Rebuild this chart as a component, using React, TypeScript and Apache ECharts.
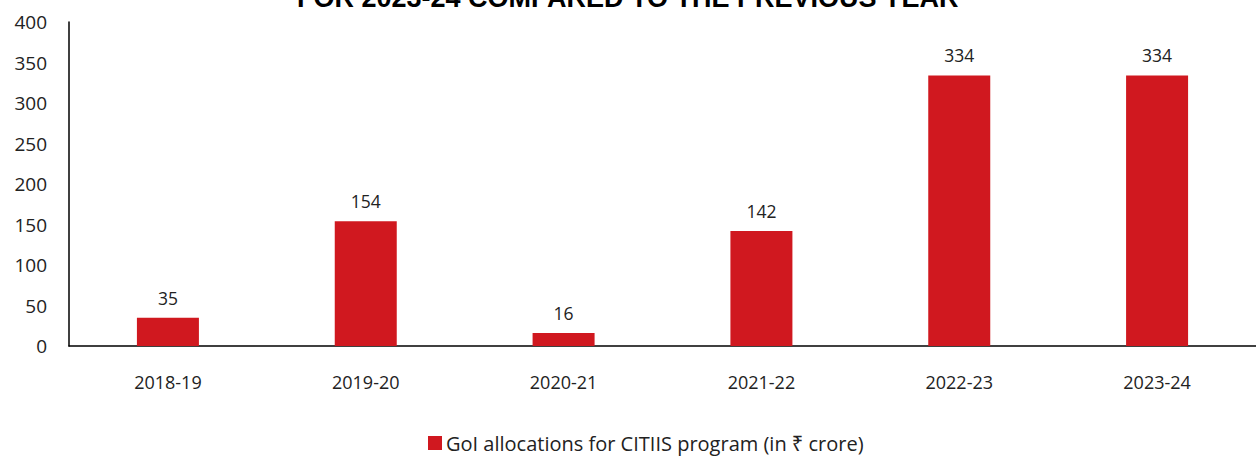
import React, { useEffect, useRef } from "react";
import * as echarts from "echarts";

const categories = ["2018-19", "2019-20", "2020-21", "2021-22", "2022-23", "2023-24"];
const allocations = [35, 154, 16, 142, 334, 334];
const seriesName = "GoI allocations for CITIIS program (in ₹ crore)";
const titleText = "FOR 2023-24 COMPARED TO THE PREVIOUS YEAR";

const FONT = "'Open Sans', 'Noto Sans', sans-serif";

export default function App() {
  const ref = useRef<HTMLDivElement>(null);
  useEffect(() => {
    document.body.style.margin = "0";
    const chart = echarts.init(ref.current!, null, { renderer: "svg" });
    chart.setOption({
      animation: false,
      textStyle: { fontFamily: FONT },
      graphic: [
        {
          type: "text",
          left: "center",
          top: -16,
          style: {
            text: titleText,
            font: "bold 27px 'Liberation Sans', Arial, sans-serif",
            fill: "#000",
          },
        },
      ],
      legend: {
        bottom: -2,
        left: 423,
        itemWidth: 14,
        itemHeight: 14,
        itemGap: 5,
        icon: "rect",
        textStyle: { fontSize: 20, color: "#222", fontFamily: FONT, padding: [0, 0, 0, -1] },
        data: [seriesName],
      },
      grid: { left: 69, top: 22, bottom: 110, width: 1198 },
      xAxis: {
        type: "category",
        data: categories,
        axisLine: { lineStyle: { color: "#000", width: 1.5 } },
        axisTick: { show: false },
        axisLabel: { fontSize: 18, color: "#222", margin: 27 },
      },
      yAxis: {
        type: "value",
        min: 0,
        max: 400,
        interval: 50,
        axisLine: { show: true, lineStyle: { color: "#000", width: 1.5 } },
        axisTick: { show: false },
        splitLine: { show: false },
        axisLabel: { fontSize: 19, color: "#222", margin: 22 },
      },
      series: [
        {
          name: seriesName,
          type: "bar",
          data: allocations,
          barWidth: 62,
          itemStyle: { color: "#D0181F" },
          label: { show: true, position: "top", distance: 11, fontSize: 17.5, color: "#222" },
        },
      ],
    });
    return () => chart.dispose();
  }, []);
  return <div ref={ref} style={{ width: 1256, height: 456 }} />;
}
